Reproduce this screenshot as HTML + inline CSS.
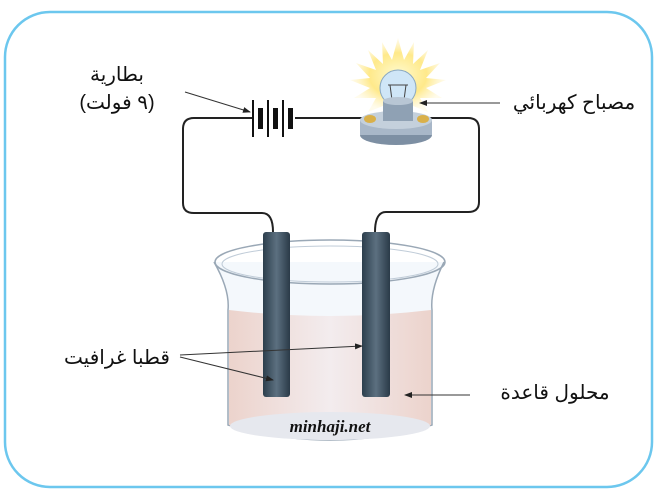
<!DOCTYPE html>
<html><head><meta charset="utf-8"><style>
body{margin:0;background:#fff;}
svg{display:block;}
text{font-family:"Liberation Sans","DejaVu Sans",sans-serif;}
</style></head><body>
<svg width="658" height="494" viewBox="0 0 658 494" xmlns="http://www.w3.org/2000/svg">
<defs>
<radialGradient id="glow" cx="0.5" cy="0.5" r="0.5"><stop offset="0" stop-color="#fffbd0"/><stop offset="0.6" stop-color="#ffe98a"/><stop offset="1" stop-color="#fff3c0" stop-opacity="0.3"/></radialGradient>
<linearGradient id="rod" x1="0" x2="1"><stop offset="0" stop-color="#2c3e4c"/><stop offset="0.5" stop-color="#5c7080"/><stop offset="1" stop-color="#2a3a48"/></linearGradient>
<linearGradient id="liq" x1="0" x2="1"><stop offset="0" stop-color="#ecd3cc"/><stop offset="0.5" stop-color="#f3ecee"/><stop offset="1" stop-color="#ecd3cc"/></linearGradient>
<marker id="ar" markerWidth="8" markerHeight="6" refX="7" refY="3" orient="auto"><path d="M0,0 L8,3 L0,6z" fill="#222"/></marker>
</defs>
<rect x="5" y="12" width="647" height="475" rx="45" fill="#fff" stroke="#6cc7ee" stroke-width="2.5"/>
<path d="M252,118 H194 Q183,118 183,129 V203 Q183,213 194,213 H262 Q273,213 273,232" fill="none" stroke="#222" stroke-width="2"/>
<path d="M295,118 H365" fill="none" stroke="#222" stroke-width="2"/>
<path d="M430,118 H468 Q479,118 479,129 V202 Q479,212 468,212 H386 Q375,212 375,232" fill="none" stroke="#222" stroke-width="2"/>
<g fill="#111"><rect x="252" y="100" width="2" height="37"/><rect x="258" y="108" width="5" height="21"/><rect x="267" y="100" width="2" height="37"/><rect x="273" y="108" width="5" height="21"/><rect x="282" y="100" width="2" height="37"/><rect x="288" y="108" width="5" height="21"/></g>
<polygon fill="url(#glow)" points="398,38 404,60 414,42 413,64 428,50 420,70 440,63 426,78 446,80 426,88 442,98 420,98 428,112 398,100 368,112 376,98 354,98 370,88 350,80 370,78 356,63 376,70 368,50 383,64 382,42 392,60"/>
<circle cx="398" cy="88" r="18" fill="#cfe6f7" stroke="#8aa8c0"/>
<path d="M388,85 l20,0 M390,85 l2,15 M406,85 l-2,15" stroke="#444" fill="none"/>
<ellipse cx="396" cy="135" rx="36" ry="10" fill="#7d8fa3"/>
<rect x="360" y="120" width="72" height="15" fill="#a8b7c8"/>
<ellipse cx="396" cy="120" rx="36" ry="9" fill="#c4d0dc"/>
<ellipse cx="370" cy="119" rx="6" ry="4" fill="#d9b04a"/><ellipse cx="423" cy="119" rx="6" ry="4" fill="#d9b04a"/>
<rect x="383" y="101" width="30" height="20" fill="#8fa1b4"/><ellipse cx="398" cy="101" rx="15" ry="4" fill="#b8c6d4"/>
<path d="M214,262 Q230,290 228,310 V425 Q330,455 432,425 V310 Q430,290 444,262" fill="#f4f8fc" stroke="#9aa8b6" stroke-width="1.5"/>
<path d="M229,310 Q330,322 431,310 V425 Q330,452 229,425Z" fill="url(#liq)"/>
<ellipse cx="330" cy="426" rx="100" ry="14" fill="#e6e8ee"/>
<ellipse cx="330" cy="262" rx="115" ry="22" fill="none" stroke="#9aa8b6" stroke-width="1.5"/>
<ellipse cx="330" cy="264" rx="108" ry="18" fill="none" stroke="#c0ccd8"/>
<rect x="263" y="232" width="27" height="165" rx="3" fill="url(#rod)"/>
<rect x="362" y="232" width="28" height="165" rx="3" fill="url(#rod)"/>
<g stroke="#333" stroke-width="1" fill="none">
<path d="M185,92 L250,112" marker-end="url(#ar)"/>
<path d="M500,103 L420,103" marker-end="url(#ar)"/>
<path d="M180,357 L273,380" marker-end="url(#ar)"/>
<path d="M180,355 L362,346" marker-end="url(#ar)"/>
<path d="M470,395 L405,395" marker-end="url(#ar)"/>
</g>
<text x="117" y="81" font-size="20" text-anchor="middle" fill="#111">بطارية</text>
<text x="117" y="109" font-size="20" text-anchor="middle" fill="#111">(٩ فولت)</text>
<text x="574" y="109" font-size="20" text-anchor="middle" fill="#111">مصباح كهربائي</text>
<text x="117" y="364" font-size="20" text-anchor="middle" fill="#111">قطبا غرافيت</text>
<text x="555" y="399" font-size="20" text-anchor="middle" fill="#111">محلول قاعدة</text>
<text x="330" y="432" font-size="17" font-style="italic" font-weight="bold" text-anchor="middle" fill="#111" style="font-family:'Liberation Serif',serif">minhaji.net</text>
</svg>
</body></html>
